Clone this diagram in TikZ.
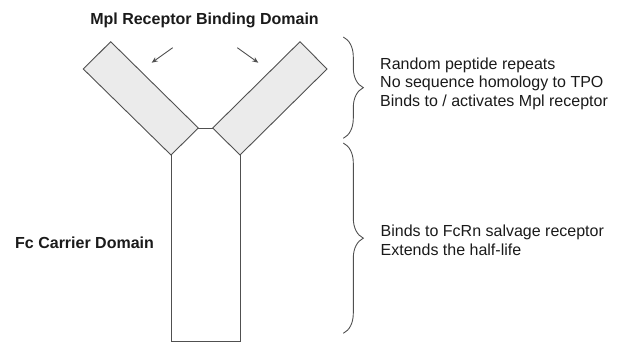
\documentclass[tikz,border=0pt]{standalone}
\usepackage{fontspec}
\setmainfont{Liberation Sans}
\usetikzlibrary{decorations.pathreplacing,arrows.meta}
\definecolor{armfill}{HTML}{EBEBEB}
\definecolor{linegray}{HTML}{505050}
\definecolor{txt}{HTML}{1A1A1A}
\begin{document}
\begin{tikzpicture}[x=1bp,y=-1bp,
  outline/.style={draw=linegray,line width=0.9bp,line join=miter},
  arm/.style={outline,fill=armfill},
  lbl/.style={inner sep=0pt,text=txt,font=\fontsize{16bp}{19bp}\selectfont},
  boldlbl/.style={inner sep=0pt,text=txt,font=\fontsize{16bp}{19bp}\selectfont\bfseries},
  pointer/.style={draw=linegray,line width=0.9bp,-{Stealth[length=6bp,width=5bp]}},
  bracket/.style={draw=linegray,line width=0.9bp,decorate,decoration={brace,amplitude=20bp}}]
\useasboundingbox (0,0) rectangle (628,342);
% coordinates
\coordinate (LT) at (110.7,41.7);
\coordinate (LL) at (83.3,69);
\coordinate (LB) at (171,155);
\coordinate (LI) at (198.3,128);
\coordinate (RT) at (300,41.7);
\coordinate (RR) at (327,69);
\coordinate (RB) at (240,155);
\coordinate (RI) at (212.7,128);
\coordinate (SBL) at (171,341);
\coordinate (SBR) at (240,341);
% arms
\draw[arm] (LT) -- (LL) -- (LB) -- (LI) -- cycle;
\draw[arm] (RT) -- (RR) -- (RB) -- (RI) -- cycle;
\draw[outline] (LI) -- (RI);
% stem
\draw[outline] (LB) -- (SBL) -- (SBR) -- (RB);
% title and labels
\node[boldlbl,anchor=base] (title) at (204.5,24) {Mpl Receptor Binding Domain};
\node[boldlbl,anchor=base west] (fc) at (15,248) {Fc Carrier Domain};
% arrows
\coordinate (a1s) at (172.7,47.7);
\coordinate (a1e) at (151.7,62.7);
\coordinate (a2s) at (237.3,47.7);
\coordinate (a2e) at (258.3,62.7);
\draw[pointer] (a1s) -- (a1e);
\draw[pointer] (a2s) -- (a2e);
% braces
\coordinate (b1t) at (343.3,37);
\coordinate (b1b) at (343.3,138.3);
\coordinate (b2t) at (343.3,143);
\coordinate (b2b) at (343.3,333.3);
\draw[bracket] (b1t) -- (b1b);
\draw[bracket] (b2t) -- (b2b);
% right texts
\node[lbl,anchor=base west] (t1) at (380,69.3) {Random peptide repeats};
\node[lbl,anchor=base west] (t2) at (380,87.7) {No sequence homology to TPO};
\node[lbl,anchor=base west] (t3) at (380,106.2) {Binds to / activates Mpl receptor};
\node[lbl,anchor=base west] (t4) at (380.5,236.3) {Binds to FcRn salvage receptor};
\node[lbl,anchor=base west] (t5) at (380.5,255.5) {Extends the half-life};
\end{tikzpicture}
\end{document}
